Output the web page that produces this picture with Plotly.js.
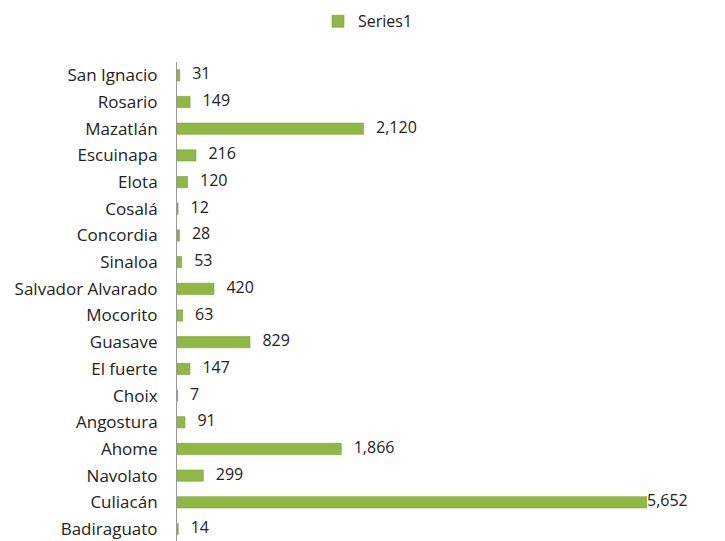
<!DOCTYPE html>
<html>
<head>
<meta charset="utf-8">
<script src="https://cdn.plot.ly/plotly-3.0.1.min.js"></script>
<style>html,body{margin:0;padding:0;background:#fff;}#chart{width:725px;height:541px;}</style>
</head>
<body>
<div id="chart"></div>
<script>
// Categories listed bottom-to-top (Plotly draws the first category at the bottom)
const municipios = ["Badiraguato","Culiacán","Navolato","Ahome","Angostura","Choix","El fuerte","Guasave","Mocorito","Salvador Alvarado","Sinaloa","Concordia","Cosalá","Elota","Escuinapa","Mazatlán","Rosario","San Ignacio"];
const series1 = [14,5652,299,1866,91,7,147,829,63,420,53,28,12,120,216,2120,149,31];
const seriesName = "Series1";

const XMAX = 5340;
const fmt = v => v.toLocaleString("en-US");
const FONT = "'Open Sans', 'Noto Sans', sans-serif";

const bars = {
  type: "bar",
  orientation: "h",
  name: seriesName,
  y: municipios,
  x: series1,
  marker: {color: "#8fb943", line: {color: "#789d32", width: 0.6}},
  hoverinfo: "x+y"
};
const labels = {
  type: "scatter",
  mode: "text",
  y: municipios,
  x: series1.map(v => Math.min(v, XMAX)),
  text: series1.map(v => (v > XMAX ? "" : "   ") + fmt(v)),
  textposition: "middle right",
  textfont: {family: FONT, size: 16, color: "#222"},
  cliponaxis: false,
  showlegend: false,
  hoverinfo: "skip"
};

const layout = {
  width: 725, height: 541,
  margin: {l: 177, r: 78, t: 62, b: 0, autoexpand: false},
  paper_bgcolor: "#fff", plot_bgcolor: "#fff",
  bargap: 0.58,
  showlegend: true,
  legend: {orientation: "h", x: 0.5076, xanchor: "center", xref: "container", y: 0.992, yref: "container", yanchor: "top",
           itemwidth: 30, font: {family: FONT, size: 16, color: "#222"}},
  xaxis: {range: [0, XMAX], visible: false, showgrid: false, zeroline: false, fixedrange: true},
  yaxis: {type: "category", range: [-0.45, municipios.length - 0.5], showline: true, linecolor: "#9a9a9a", linewidth: 1,
          ticks: "", showgrid: false, fixedrange: true,
          tickfont: {family: FONT, size: 17, color: "#222"}, ticklabelstandoff: 15, automargin: false}
};
Plotly.newPlot("chart", [bars, labels], layout, {displayModeBar: false, staticPlot: true});
</script>
</body>
</html>
